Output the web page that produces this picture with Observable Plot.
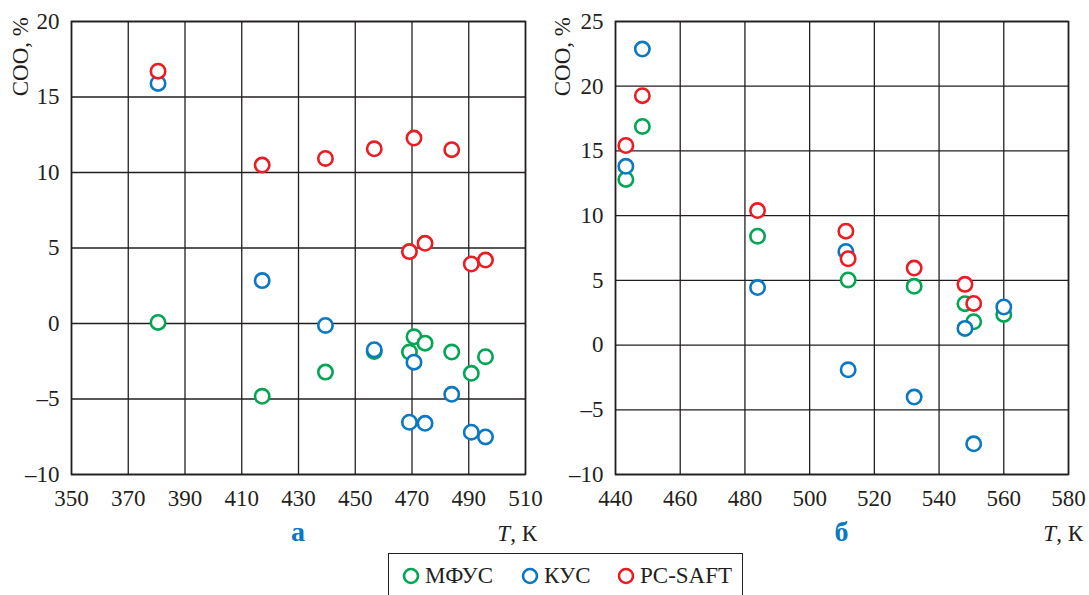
<!DOCTYPE html>
<html><head><meta charset="utf-8">
<script src="https://cdn.jsdelivr.net/npm/d3@7"></script>
<script src="https://cdn.jsdelivr.net/npm/@observablehq/plot@0.6"></script>
<style>
body{margin:0;background:#fff;overflow:hidden;}
#wrap{position:relative;width:1089px;height:595px;overflow:hidden;font-family:"Liberation Serif","Times New Roman",serif;color:#231f20;}
.panel{position:absolute;top:0;}
#legend{position:absolute;left:388px;top:553px;width:355px;height:60px;border:1.4px solid #231f20;box-sizing:border-box;}
.li{position:absolute;top:0;height:44px;display:flex;align-items:center;font-size:23px;}
.li svg{margin-right:4px;}
</style></head><body><div id="wrap"><div id="legend"></div></div>
<script>
// Series names and colours
const seriesNames = ["МФУС", "КУС", "PC-SAFT"];
const seriesColors = ["#00a651", "#0a78c2", "#ec1c24"];

// Panel а
const tA = [380.5, 417.2, 439.5, 456.7, 469.1, 470.7, 474.6, 484.0, 490.9, 495.9];
const mfusA = [0.07, -4.82, -3.22, -1.85, -1.89, -0.88, -1.30, -1.89, -3.30, -2.20];
const kusA = [15.9, 2.84, -0.13, -1.74, -6.54, -2.56, -6.61, -4.69, -7.20, -7.51];
const pcsaftA = [16.71, 10.49, 10.93, 11.57, 4.76, 12.28, 5.31, 11.51, 3.94, 4.20];
const xTicksA = [350, 370, 390, 410, 430, 450, 470, 490, 510];
const yTicksA = [-10, -5, 0, 5, 10, 15, 20];

// Panel б
const tB = [443.2, 448.3, 483.9, 511.2, 511.9, 532.3, 548.0, 550.7, 560.0];
const mfusB = [12.8, 16.89, 8.41, null, 5.03, 4.54, 3.2, 1.8, 2.37];
const kusB = [13.81, 22.87, 4.44, 7.23, -1.91, -4.02, 1.29, -7.63, 2.94];
const pcsaftB = [15.42, 19.27, 10.39, 8.8, 6.67, 5.95, 4.69, 3.22, null];
const xTicksB = [440, 460, 480, 500, 520, 540, 560, 580];
const yTicksB = [-10, -5, 0, 5, 10, 15, 20, 25];

const ink = "#231f20";
const font = '"Liberation Serif","Times New Roman",serif';
const fmt = d => d < 0 ? "–" + Math.abs(d) : String(d);

function panel({T, series, xTicks, yTicks, width, left, marginLeft, marginRight, yLabelX, xLabelRight, letter}) {
  const rows = [];
  series.forEach((vals, i) => vals.forEach((v, j) => {
    if (v != null) rows.push({T: T[j], v, s: seriesNames[i]});
  }));
  const svg = Plot.plot({
    width, height: 550, marginLeft, marginRight, marginTop: 21, marginBottom: 76,
    style: {fontFamily: font, fontSize: "23px", color: ink, background: "transparent", overflow: "visible"},
    x: {domain: [xTicks[0], xTicks[xTicks.length - 1]]},
    y: {domain: [yTicks[0], yTicks[yTicks.length - 1]]},
    color: {domain: seriesNames, range: seriesColors},
    marks: [
      Plot.gridX(xTicks, {stroke: ink, strokeOpacity: 1, strokeWidth: 1.3}),
      Plot.gridY(yTicks, {stroke: ink, strokeOpacity: 1, strokeWidth: 1.3}),
      Plot.frame({stroke: ink, strokeWidth: 1.6}),
      Plot.axisX(xTicks, {tickSize: 0, tickPadding: 15, label: null, fontSize: 23, tickFormat: fmt}),
      Plot.axisY(yTicks, {tickSize: 0, tickPadding: 12, label: null, fontSize: 23, tickFormat: fmt}),
      Plot.dot(rows, {x: "T", y: "v", stroke: "s", r: 7.2, strokeWidth: 2.6, fill: "white"})
    ]
  });
  const s = d3.select(svg);
  s.append("text")
    .attr("transform", `translate(${yLabelX},17) rotate(-90)`)
    .attr("text-anchor", "end").attr("dy", "0.35em")
    .attr("fill", ink).style("font-size", "23px").style("font-family", font)
    .text("СОО, %");
  const xl = s.append("text").attr("x", xLabelRight).attr("y", 541)
    .attr("text-anchor", "end").attr("fill", ink)
    .style("font-size", "23px").style("font-family", font);
  xl.append("tspan").style("font-style", "italic").text("T");
  xl.append("tspan").text(", К");
  s.append("text").attr("x", (marginLeft + width - marginRight) / 2).attr("y", 541)
    .attr("text-anchor", "middle").attr("fill", "#0a78c2")
    .style("font-size", "28px").style("font-weight", "bold").style("font-family", font)
    .text(letter);
  svg.classList.add("panel");
  svg.style.left = left + "px";
  document.getElementById("wrap").appendChild(svg);
}

panel({T: tA, series: [mfusA, kusA, pcsaftA], xTicks: xTicksA, yTicks: yTicksA,
  width: 545, left: 0, marginLeft: 71, marginRight: 20, yLabelX: 20, xLabelRight: 537, letter: "а"});
panel({T: tB, series: [mfusB, kusB, pcsaftB], xTicks: xTicksB, yTicks: yTicksB,
  width: 544, left: 545, marginLeft: 70, marginRight: 21, yLabelX: 17, xLabelRight: 538, letter: "б"});

// Legend
const legendPos = [12, 131, 227];
const legend = document.getElementById("legend");
seriesNames.forEach((name, i) => {
  const item = document.createElement("div");
  item.className = "li";
  item.style.left = legendPos[i] + "px";
  const ns = "http://www.w3.org/2000/svg";
  const sv = document.createElementNS(ns, "svg");
  sv.setAttribute("width", 20); sv.setAttribute("height", 20);
  const c = document.createElementNS(ns, "circle");
  c.setAttribute("cx", 10); c.setAttribute("cy", 10); c.setAttribute("r", 7);
  c.setAttribute("fill", "white"); c.setAttribute("stroke", seriesColors[i]); c.setAttribute("stroke-width", 2.6);
  sv.appendChild(c);
  item.appendChild(sv);
  const t = document.createElement("span");
  t.textContent = name;
  item.appendChild(t);
  legend.appendChild(item);
});
</script></body></html>
